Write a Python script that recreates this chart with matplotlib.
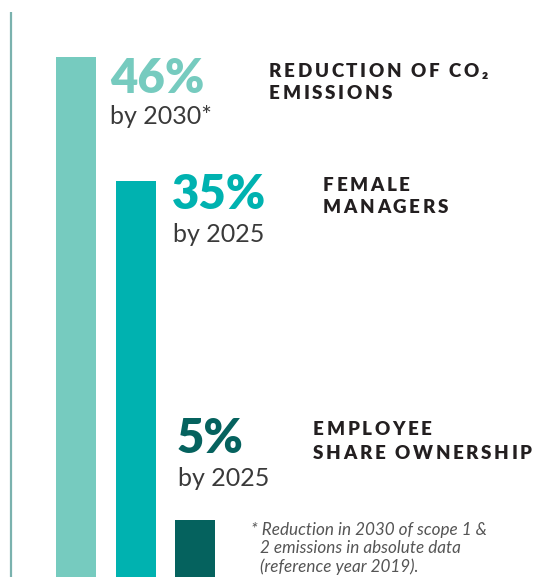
import matplotlib
matplotlib.use('Agg')
import matplotlib.pyplot as plt
from matplotlib.font_manager import FontProperties

# ---- data ----
values = [46, 35, 5]
pct_labels = ['46%', '35%', '5%']
target_labels = ['by 2030*', 'by 2025', 'by 2025']
titles = [['REDUCTION OF CO₂', 'EMISSIONS'],
          ['FEMALE', 'MANAGERS'],
          ['EMPLOYEE', 'SHARE OWNERSHIP']]
footnote = ['* Reduction in 2030 of scope 1 &',
            '2 emissions in absolute data',
            '(reference year 2019).']
colors = ['#76cbbf', '#00b2b0', '#05625e']

# ---- layout ----
W, H = 553, 577
fig = plt.figure(figsize=(W / 100, H / 100), dpi=100)
ax = fig.add_axes([0, 0, 1, 1])
ax.axis('off')
px_per_unit = (H - 57) / values[0]
ax.set_xlim(0, W)
ax.set_ylim(0, H / px_per_unit)

bar_left = [56, 116, 175]
bar_w = 40
ax.bar([l + bar_w / 2 for l in bar_left], values, width=bar_w, color=colors, align='center')
ax.plot([10.5, 10.5], [0, (H - 12) / px_per_unit], color='#7ab2ae', lw=1.6, solid_capstyle='butt')

renderer = fig.canvas.get_renderer()
FAM = ['Lato', 'DejaVu Sans']

def wpx(s, fp):
    w, h, d = renderer.get_text_width_height_descent(s, fp, ismath=False)
    return w

def ftext(x, yb, s, fp, color, **kw):
    fig.text(x / W, 1 - yb / H, s, fontproperties=fp, color=color, va='baseline', ha='left', **kw)

def spaced(x, yb, s, fp, sp, color):
    ref = wpx('X', fp)
    for i, ch in enumerate(s):
        if ch == ' ':
            continue
        off = (wpx(s[:i] + 'X', fp) - ref) if i > 0 else 0
        ftext(x + off + i * sp, yb, ch, fp, color)

fp_pct = FontProperties(family=FAM, style='normal', weight='heavy', size=34)
fp_by = FontProperties(family=FAM, weight='normal', size=18)
fp_title = FontProperties(family=FAM, style='normal', weight='heavy', size=13.5)
fp_note = FontProperties(family=FAM, style='italic', weight='normal', size=12.3)

pct_pos = [(110, 93), (172, 209), (177, 453)]
by_pos = [(110, 124), (173, 242), (178, 486)]
title_pos = [(269, 77, 99), (323, 191, 213), (313, 435, 459)]

for i in range(3):
    ftext(*pct_pos[i], pct_labels[i], fp_pct, colors[i])
    ftext(*by_pos[i], target_labels[i], fp_by, '#3a3a3a')
    x, y1, y2 = title_pos[i]
    spaced(x, y1, titles[i][0], fp_title, 2.6, '#231f20')
    spaced(x, y2, titles[i][1], fp_title, 2.6, '#231f20')

ftext(251, 535, footnote[0], fp_note, '#555555')
ftext(260, 553, footnote[1], fp_note, '#555555')
ftext(260, 572, footnote[2], fp_note, '#555555')

fig.savefig('out.png', dpi=100)
